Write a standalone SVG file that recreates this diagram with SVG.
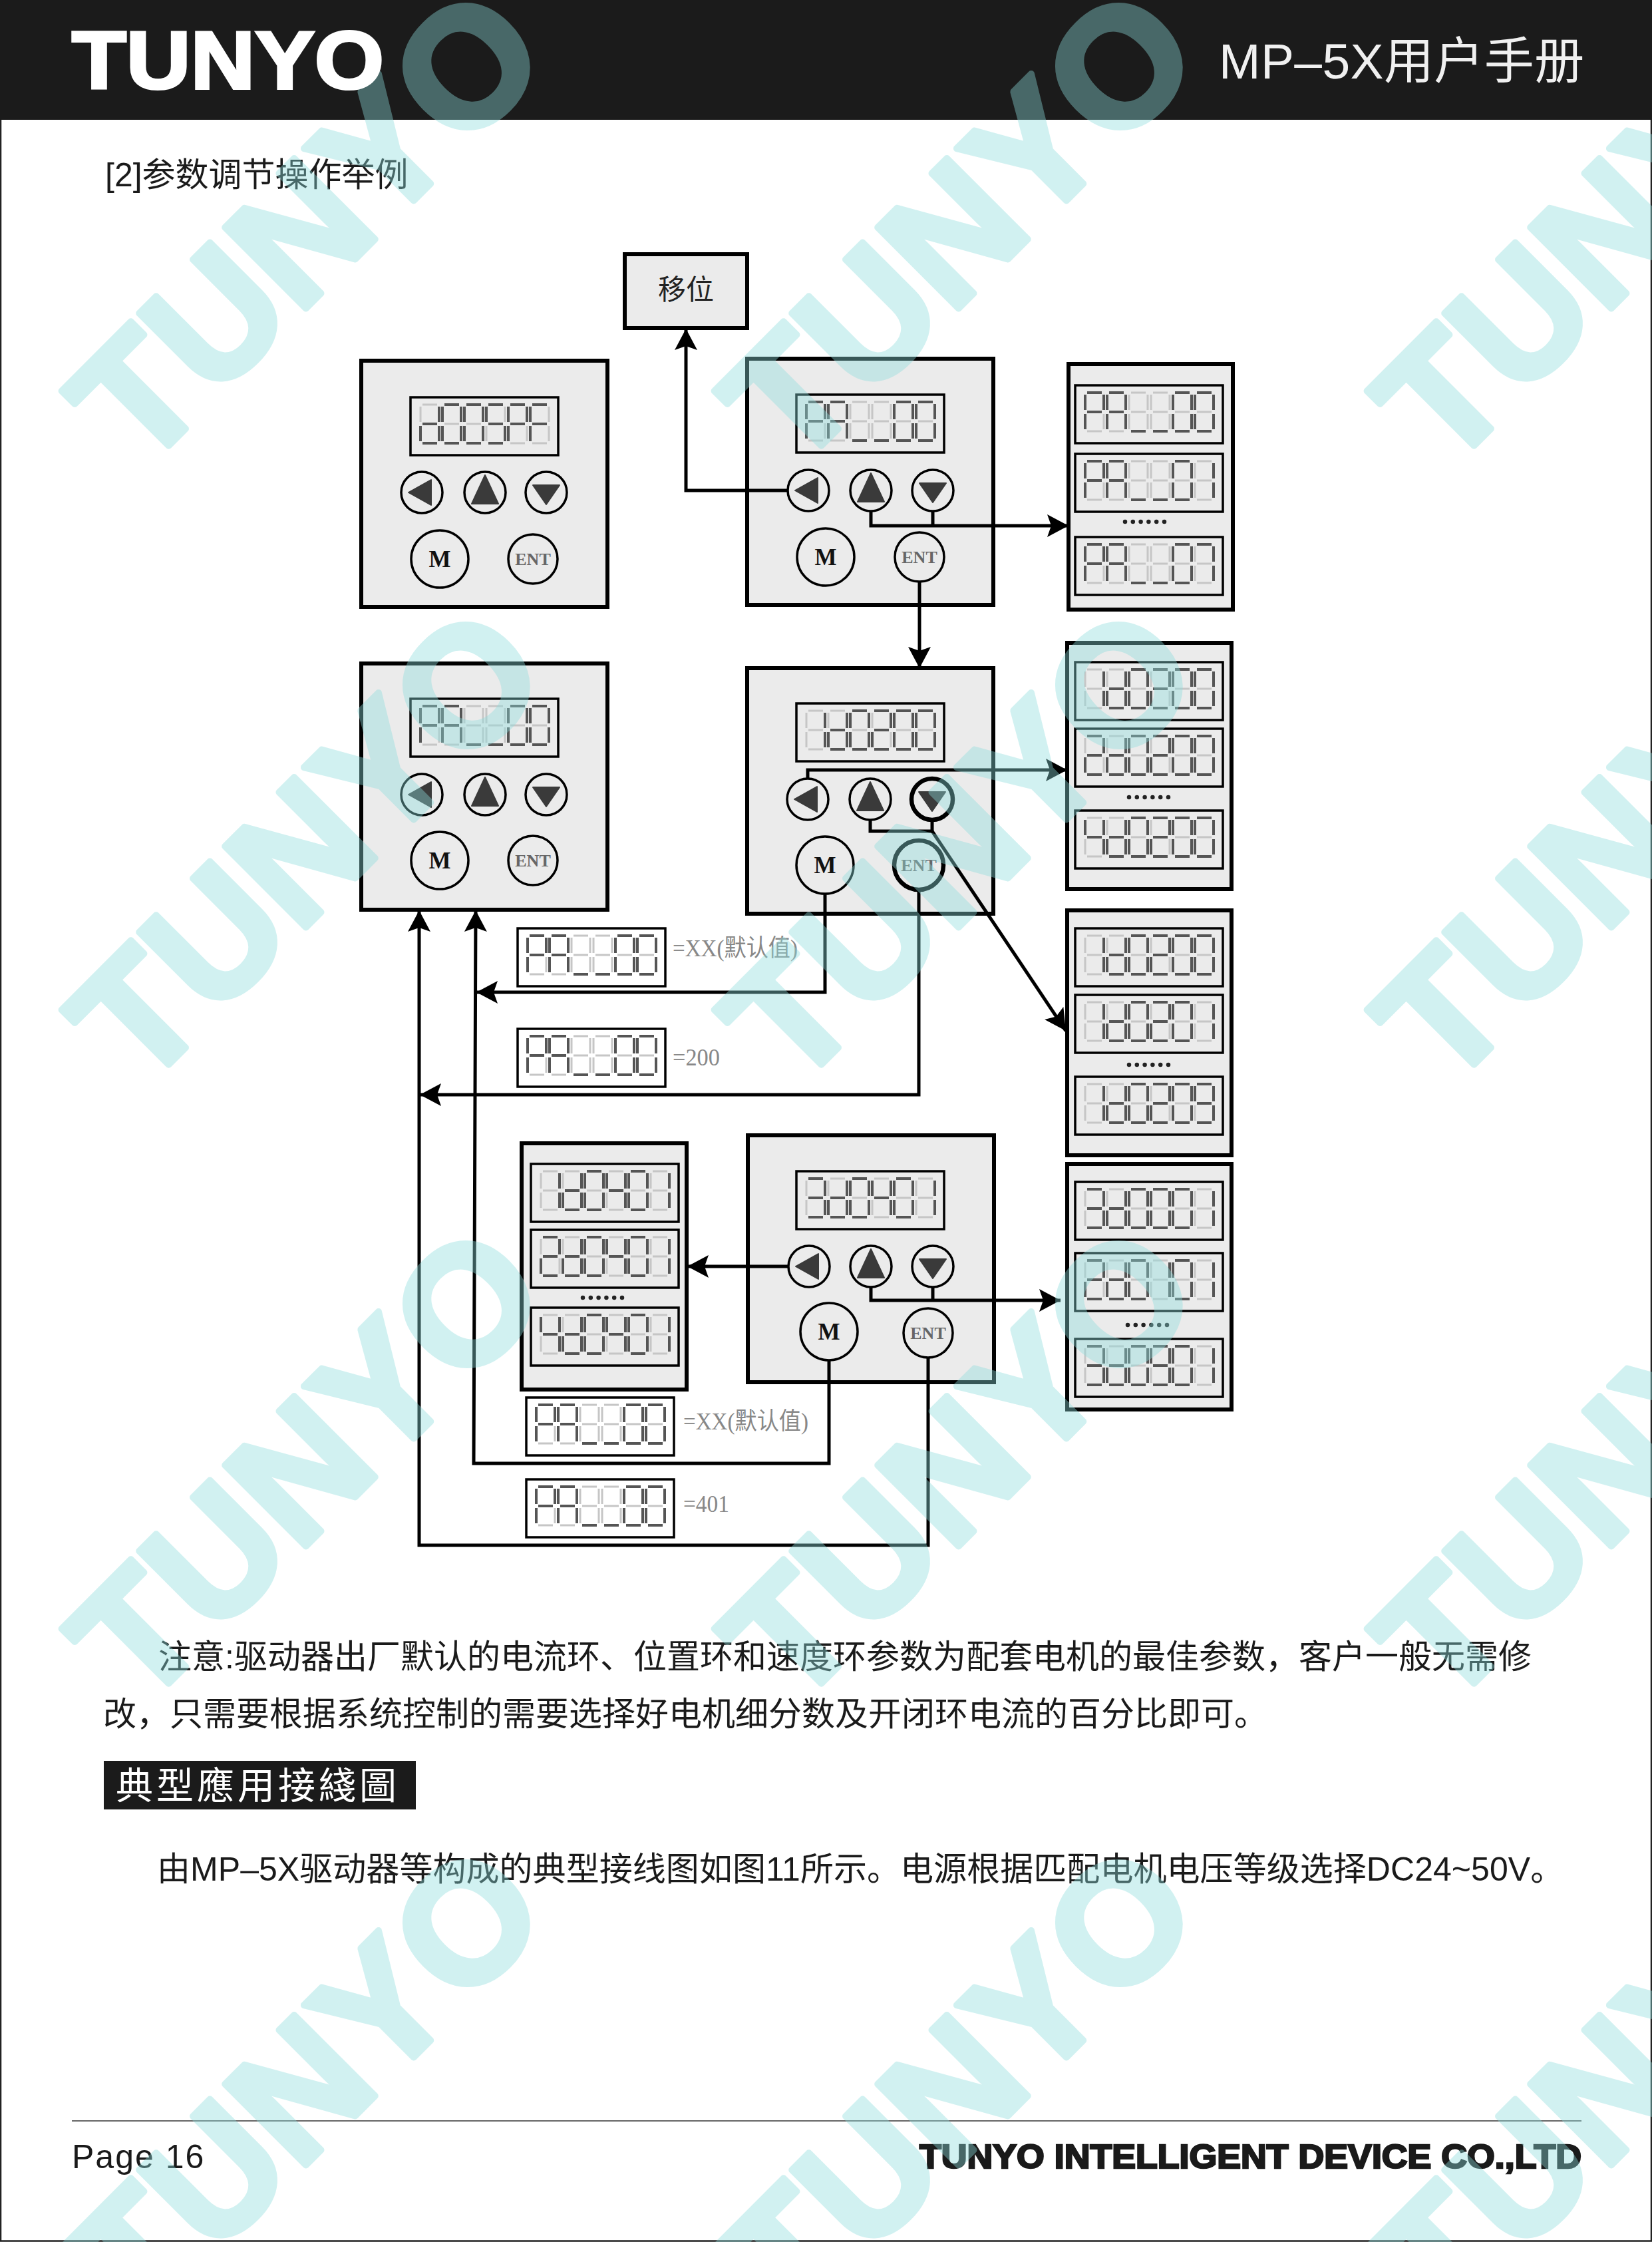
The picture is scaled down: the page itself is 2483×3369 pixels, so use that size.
<svg xmlns="http://www.w3.org/2000/svg" width="2483" height="3369" viewBox="0 0 2483 3369">
<style>
.sans{font-family:"Liberation Sans","Noto Sans CJK SC",sans-serif}
.body{font-family:"Liberation Sans","Noto Sans CJK SC",sans-serif;font-size:50px;fill:#1a1a1a}
.pn{fill:#ebebeb;stroke:#000;stroke-width:6}
.box{fill:#ebebeb;stroke:#000;stroke-width:6}
.lcd{fill:none;stroke:#000;stroke-width:3.5}
.off{fill:none;stroke:#c6c6c6;stroke-width:3}
.on{fill:none;stroke:#555;stroke-width:4}
.btn{fill:#ebebeb;stroke:#000;stroke-width:3.5}
.tri{fill:#3a3a3a;stroke:#3a3a3a;stroke-width:2;stroke-linejoin:round}
.ml{font-family:"Liberation Serif",serif;font-weight:bold;text-anchor:middle;font-size:35px;fill:#111}
.el{font-family:"Liberation Serif",serif;font-weight:bold;text-anchor:middle;font-size:26px;fill:#666}
.lab{font-family:"Liberation Serif","Noto Sans CJK SC",serif;font-size:36px;fill:#888}
.dots{fill:none;stroke:#222;stroke-width:6.5;stroke-linecap:round;stroke-dasharray:0 11.8}
.c{fill:none;stroke:#000;stroke-width:5;stroke-linejoin:miter}
.wm{font-family:"Liberation Sans",sans-serif;font-weight:bold;font-size:250px;text-anchor:middle;fill:#8ddede;stroke:#8ddede;stroke-width:10;stroke-linejoin:round;opacity:.395}
</style>
<defs>
<marker id="ah" markerUnits="userSpaceOnUse" markerWidth="34" markerHeight="36" refX="32" refY="18" orient="auto" overflow="visible"><path d="M0 1L32 18L0 35L6 18Z" fill="#000"/></marker>
<path id="s8" class="off" d="M3 0H25M28 3V26M28 32V55M3 58H25M0 32V55M0 3V26M3 29H25"/>
<g id="g0"><use href="#s8"/><path class="on" d="M3 0H25M28 3V26M28 32V55M3 58H25M0 32V55M0 3V26"/></g>
<g id="g1"><use href="#s8"/><path class="on" d="M28 3V26M28 32V55"/></g>
<g id="g2"><use href="#s8"/><path class="on" d="M3 0H25M28 3V26M3 29H25M0 32V55M3 58H25"/></g>
<g id="g3"><use href="#s8"/><path class="on" d="M3 0H25M28 3V26M3 29H25M28 32V55M3 58H25"/></g>
<g id="g4"><use href="#s8"/><path class="on" d="M0 3V26M3 29H25M28 3V26M28 32V55"/></g>
<g id="g7"><use href="#s8"/><path class="on" d="M3 0H25M28 3V26M28 32V55"/></g>
<g id="g9"><use href="#s8"/><path class="on" d="M3 0H25M28 3V26M28 32V55M3 58H25M0 3V26M3 29H25"/></g>
<g id="gd"><use href="#s8"/><path class="on" d="M28 3V26M28 32V55M3 58H25M0 32V55M3 29H25"/></g>
<g id="gS"><use href="#s8"/><path class="on" d="M3 0H25M0 3V26M3 29H25M28 32V55M3 58H25"/></g>
<g id="gP"><use href="#s8"/><path class="on" d="M3 0H25M28 3V26M0 3V26M3 29H25M0 32V55"/></g>
<g id="gF"><use href="#s8"/><path class="on" d="M3 0H25M0 3V26M3 29H25M0 32V55"/></g>
<g id="gA"><use href="#s8"/><path class="on" d="M3 0H25M28 3V26M28 32V55M0 32V55M0 3V26M3 29H25"/></g>
<g id="gu"><use href="#s8"/><path class="on" d="M3 58H25"/></g>
<g id="PA"><rect class="lcd" width="222" height="87"/><use href="#gP" x="15" y="11"/><use href="#gA" x="48" y="11"/><use href="#gu" x="81" y="11"/><use href="#gu" x="114" y="11"/></g>
<g id="PA00"><use href="#PA"/><use href="#g0" x="147" y="11"/><use href="#g0" x="180" y="11"/></g>
<g id="PA01"><use href="#PA"/><use href="#g0" x="147" y="11"/><use href="#g1" x="180" y="11"/></g>
<g id="PA07"><use href="#PA"/><use href="#g0" x="147" y="11"/><use href="#g7" x="180" y="11"/></g>
<g id="d00SPF"><rect class="lcd" width="222" height="87"/><use href="#gd" x="15" y="11"/><use href="#g0" x="48" y="11"/><use href="#g0" x="81" y="11"/><use href="#gS" x="114" y="11"/><use href="#gP" x="147" y="11"/><use href="#gF" x="180" y="11"/></g>
<g id="d020"><rect class="lcd" width="222" height="87"/><use href="#gd" x="48" y="11"/><use href="#g0" x="81" y="11"/><use href="#g2" x="114" y="11"/><use href="#g0" x="147" y="11"/></g>
<g id="d040"><rect class="lcd" width="222" height="87"/><use href="#gd" x="48" y="11"/><use href="#g0" x="81" y="11"/><use href="#g4" x="114" y="11"/><use href="#g0" x="147" y="11"/><use href="#g1" x="180" y="11"/></g>
<g id="L1d0200"><use href="#d020"/><use href="#g1" x="15" y="11"/><use href="#g0" x="180" y="11"/></g>
<g id="L2d0200"><use href="#d020"/><use href="#g2" x="15" y="11"/><use href="#g0" x="180" y="11"/></g>
<g id="L4d0200"><use href="#d020"/><use href="#g4" x="15" y="11"/><use href="#g0" x="180" y="11"/></g>
<g id="L1d0201"><use href="#d020"/><use href="#g1" x="15" y="11"/><use href="#g1" x="180" y="11"/></g>
<g id="L1d0209"><use href="#d020"/><use href="#g1" x="15" y="11"/><use href="#g9" x="180" y="11"/></g>
<g id="L1d0401"><use href="#d040"/><use href="#g1" x="15" y="11"/></g>
<g id="L2d0401"><use href="#d040"/><use href="#g2" x="15" y="11"/></g>
<g id="L3d0401"><use href="#d040"/><use href="#g3" x="15" y="11"/></g>
<g id="L4d0401"><use href="#d040"/><use href="#g4" x="15" y="11"/></g>
<g id="L3d0001"><rect class="lcd" width="222" height="87"/><use href="#g3" x="15" y="11"/><use href="#gd" x="48" y="11"/><use href="#g0" x="81" y="11"/><use href="#g0" x="114" y="11"/><use href="#g0" x="147" y="11"/><use href="#g1" x="180" y="11"/></g>
<g id="L2d0101"><rect class="lcd" width="222" height="87"/><use href="#g2" x="15" y="11"/><use href="#gd" x="48" y="11"/><use href="#g0" x="81" y="11"/><use href="#g1" x="114" y="11"/><use href="#g0" x="147" y="11"/><use href="#g1" x="180" y="11"/></g>
<g id="L3d0901"><rect class="lcd" width="222" height="87"/><use href="#g3" x="15" y="11"/><use href="#gd" x="48" y="11"/><use href="#g0" x="81" y="11"/><use href="#g9" x="114" y="11"/><use href="#g0" x="147" y="11"/><use href="#g1" x="180" y="11"/></g>
<g id="bL"><circle class="btn" r="31"/><path class="tri" d="M-20 0L14 -19V19Z"/></g>
<g id="bU"><circle class="btn" r="31"/><path class="tri" d="M0 -26L-20 17H20Z"/></g>
<g id="bD"><circle class="btn" r="31"/><path class="tri" d="M-20 -11H20L0 18Z"/></g>
<g id="bM"><circle class="btn" r="43"/><text class="ml" y="12">M</text></g>
<g id="bE"><circle class="btn" r="37"/><text class="el" y="9">ENT</text></g>
</defs>
<rect width="2483" height="3369" fill="#fff"/>
<rect id="page-frame" x="1" y="1" width="2481" height="3366.5" fill="none" stroke="#222" stroke-width="2.5"/>
<g id="header"><rect width="2483" height="180" fill="#1b1b1b"/><text class="sans" x="1832" y="118" font-size="75" letter-spacing="0.4" fill="#f0f0f0">MP–5X用户手册</text></g>
<g id="heading"><text class="body" x="158" y="280">[2]参数调节操作举例</text></g>

<g id="diagram" transform="translate(2 1)">
<g id="node-shift"><rect class="box" x="937" y="381" width="184" height="111"/><text x="987" y="449" font-size="42" fill="#222" font-family="Noto Sans CJK SC,sans-serif">移位</text></g>

<g id="panel-a"><rect class="pn" x="541" y="541" width="370" height="370"/><use href="#d00SPF" x="615" y="596"/><use href="#bL" x="632" y="739"/><use href="#bU" x="727" y="739"/><use href="#bD" x="819" y="739"/><use href="#bM" x="659" y="839"/><use href="#bE" x="799" y="839"/></g>
<g id="panel-b"><rect class="pn" x="1121" y="538" width="370" height="370"/><use href="#PA00" x="1195" y="592"/><use href="#bL" x="1213" y="736"/><use href="#bU" x="1307" y="736"/><use href="#bD" x="1400" y="736"/><use href="#bM" x="1239" y="836"/><use href="#bE" x="1380" y="836"/></g>
<g id="list-1"><rect class="box" x="1604" y="546" width="247" height="369"/><use href="#PA00" x="1614" y="578"/><use href="#PA01" x="1614" y="681"/><path class="dots" d="M1689 783H1750"/><use href="#PA07" x="1614" y="806"/></g>
<g id="panel-f"><rect class="pn" x="541" y="996" width="370" height="370"/><use href="#PA00" x="615" y="1049"/><use href="#bL" x="632" y="1193"/><use href="#bU" x="727" y="1193"/><use href="#bD" x="819" y="1193"/><use href="#bM" x="659" y="1292"/><use href="#bE" x="799" y="1292"/></g>
<g id="panel-g"><rect class="pn" x="1121" y="1003" width="370" height="369"/><use href="#L1d0200" x="1195" y="1056"/><use href="#bL" x="1212" y="1200"/><use href="#bU" x="1306" y="1200"/><use href="#bD" x="1399" y="1200"/><circle cx="1399" cy="1200" r="31" fill="none" stroke="#000" stroke-width="6.5"/><use href="#bM" x="1238" y="1299"/><use href="#bE" x="1379" y="1299"/><circle cx="1379" cy="1299" r="37" fill="none" stroke="#000" stroke-width="6.5"/></g>
<g id="list-2"><rect class="box" x="1602" y="965" width="247" height="370"/><use href="#L1d0200" x="1614" y="994"/><use href="#L2d0200" x="1614" y="1094"/><path class="dots" d="M1695 1197H1757"/><use href="#L4d0200" x="1614" y="1217"/></g>
<g id="list-3"><rect class="box" x="1602" y="1367" width="247" height="368"/><use href="#L1d0200" x="1614" y="1394"/><use href="#L1d0201" x="1614" y="1494"/><path class="dots" d="M1695 1599H1757"/><use href="#L1d0209" x="1614" y="1617"/></g>
<g id="list-4"><rect class="box" x="1602" y="1748" width="247" height="369"/><use href="#L3d0001" x="1614" y="1775"/><use href="#L2d0101" x="1614" y="1882"/><path class="dots" d="M1693 1990H1757"/><use href="#L3d0901" x="1614" y="2011"/></g>
<g id="list-5"><rect class="box" x="782" y="1717" width="248" height="370"/><use href="#L1d0401" x="796" y="1748"/><use href="#L2d0401" x="796" y="1847"/><path class="dots" d="M874 1949H937"/><use href="#L4d0401" x="796" y="1964"/></g>
<g id="panel-e"><rect class="pn" x="1122" y="1705" width="370" height="371"/><use href="#L3d0401" x="1195" y="1759"/><use href="#bL" x="1214" y="1902"/><use href="#bU" x="1307" y="1902"/><use href="#bD" x="1400" y="1902"/><use href="#bM" x="1244" y="2000"/><use href="#bE" x="1393" y="2002"/></g>

<g id="value-1"><use href="#PA00" x="776" y="1394"/><text class="lab" x="1009" y="1436" textLength="188" lengthAdjust="spacingAndGlyphs">=XX(默认值)</text></g>
<g id="value-2"><use href="#PA00" x="776" y="1545"/><text class="lab" x="1009" y="1600" textLength="71" lengthAdjust="spacingAndGlyphs">=200</text></g>
<g id="value-3"><use href="#PA00" x="789" y="2099"/><text class="lab" x="1025" y="2147" textLength="188" lengthAdjust="spacingAndGlyphs">=XX(默认值)</text></g>
<g id="value-4"><use href="#PA00" x="789" y="2222"/><text class="lab" x="1025" y="2271" textLength="69" lengthAdjust="spacingAndGlyphs">=401</text></g>

<g id="connectors">
<path class="c" marker-end="url(#ah)" d="M1182 736H1029V493"/>
<path class="c" marker-end="url(#ah)" d="M1307 767V789H1604"/>
<path class="c" d="M1400 767V789"/>
<path class="c" marker-end="url(#ah)" d="M1380 873V1003"/>
<path class="c" marker-end="url(#ah)" d="M1212 1169V1156H1602"/>
<path class="c" d="M1306 1231V1248H1399V1231"/>
<path class="c" marker-end="url(#ah)" d="M1399 1248L1600 1548"/>
<path class="c" marker-end="url(#ah)" d="M1238 1342V1490H714"/>
<path class="c" marker-end="url(#ah)" d="M1379 1336V1644H629"/>
<path class="c" marker-end="url(#ah)" d="M1244 2043V2198H710L713 1367"/>
<path class="c" marker-end="url(#ah)" d="M1393 2039V2321H628V1367"/>
<path class="c" marker-end="url(#ah)" d="M1183 1902H1031"/>
<path class="c" marker-end="url(#ah)" d="M1307 1933V1953H1592"/>
<path class="c" d="M1400 1933V1953"/>
</g>
</g>

<g id="notes">
<text class="body" x="238" y="2507">注意:驱动器出厂默认的电流环、位置环和速度环参数为配套电机的最佳参数，客户一般无需修</text>
<text class="body" x="155" y="2593">改，只需要根据系统控制的需要选择好电机细分数及开闭环电流的百分比即可。</text>
<rect x="156" y="2646" width="469" height="73" fill="#1b1b1b"/>
<text x="174" y="2703" font-size="56" letter-spacing="5" fill="#fff" font-family="Noto Sans CJK TC,sans-serif">典型應用接綫圖</text>
<text class="body" x="236" y="2826" letter-spacing="0.05">由MP–5X驱动器等构成的典型接线图如图11所示。电源根据匹配电机电压等级选择DC24~50V。</text>
</g>
<g id="footer">
<path d="M108 3187H2377" stroke="#666" stroke-width="2.2"/>
<text class="sans" x="108" y="3258" font-size="50" letter-spacing="2" fill="#1a1a1a">Page 16</text>
<text class="sans" x="1382" y="3258" font-size="50" font-weight="bold" textLength="995" lengthAdjust="spacingAndGlyphs" fill="#1a1a1a" stroke="#1a1a1a" stroke-width="2.6">TUNYO INTELLIGENT DEVICE CO.,LTD</text>
</g>

<g id="watermark">
<text class="wm" y="90" transform="translate(458 338) rotate(-45)">TUNYO</text>
<text class="wm" y="90" transform="translate(1439 338) rotate(-45)">TUNYO</text>
<text class="wm" y="90" transform="translate(2420 338) rotate(-45)">TUNYO</text>
<text class="wm" y="90" transform="translate(458 1268) rotate(-45)">TUNYO</text>
<text class="wm" y="90" transform="translate(1439 1268) rotate(-45)">TUNYO</text>
<text class="wm" y="90" transform="translate(2420 1268) rotate(-45)">TUNYO</text>
<text class="wm" y="90" transform="translate(458 2198) rotate(-45)">TUNYO</text>
<text class="wm" y="90" transform="translate(1439 2198) rotate(-45)">TUNYO</text>
<text class="wm" y="90" transform="translate(2420 2198) rotate(-45)">TUNYO</text>
<text class="wm" y="90" transform="translate(458 3128) rotate(-45)">TUNYO</text>
<text class="wm" y="90" transform="translate(1439 3128) rotate(-45)">TUNYO</text>
<text class="wm" y="90" transform="translate(2420 3128) rotate(-45)">TUNYO</text>
</g>
<g id="logo"><text class="sans" x="108" y="133" font-size="122" font-weight="bold" textLength="469" lengthAdjust="spacingAndGlyphs" fill="#fff" stroke="#fff" stroke-width="4">TUNYO</text></g>
</svg>
